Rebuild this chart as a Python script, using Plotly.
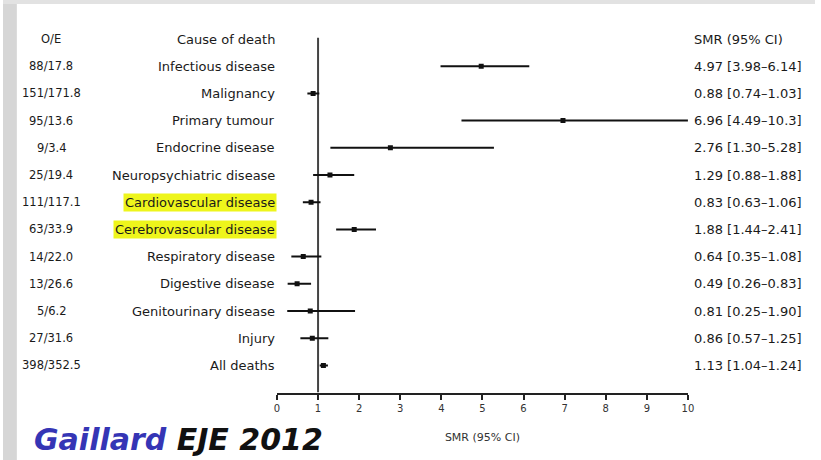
import plotly.graph_objects as go

# ---- data ----
causes = ["Infectious disease", "Malignancy", "Primary tumour", "Endocrine disease",
          "Neuropsychiatric disease", "Cardiovascular disease", "Cerebrovascular disease",
          "Respiratory disease", "Digestive disease", "Genitourinary disease",
          "Injury", "All deaths"]
oe = ["88/17.8", "151/171.8", "95/13.6", "9/3.4", "25/19.4", "111/117.1", "63/33.9",
      "14/22.0", "13/26.6", "5/6.2", "27/31.6", "398/352.5"]
smr = [4.97, 0.88, 6.96, 2.76, 1.29, 0.83, 1.88, 0.64, 0.49, 0.81, 0.86, 1.13]
ci_low = [3.98, 0.74, 4.49, 1.30, 0.88, 0.63, 1.44, 0.35, 0.26, 0.25, 0.57, 1.04]
ci_high = [6.14, 1.03, 10.3, 5.28, 1.88, 1.06, 2.41, 1.08, 0.83, 1.90, 1.25, 1.24]
ci_text = ["4.97 [3.98–6.14]", "0.88 [0.74–1.03]", "6.96 [4.49–10.3]", "2.76 [1.30–5.28]",
           "1.29 [0.88–1.88]", "0.83 [0.63–1.06]", "1.88 [1.44–2.41]", "0.64 [0.35–1.08]",
           "0.49 [0.26–0.83]", "0.81 [0.25–1.90]", "0.86 [0.57–1.25]", "1.13 [1.04–1.24]"]
highlighted = ["Cardiovascular disease", "Cerebrovascular disease"]
x_ticks = list(range(0, 11))

W, H = 821, 460
rows = list(range(1, len(causes) + 1))
FAM = "DejaVu Sans, Verdana, sans-serif"

fig = go.Figure()
fig.add_trace(go.Scatter(
    x=smr, y=rows, mode="markers",
    marker=dict(symbol="square", size=5, color="#111"),
    error_x=dict(type="data", symmetric=False,
                 array=[h - s for h, s in zip(ci_high, smr)],
                 arrayminus=[s - l for s, l in zip(smr, ci_low)],
                 width=0, thickness=2, color="#111"),
    showlegend=False, hoverinfo="skip"))

# reference line at SMR = 1
fig.add_shape(type="line", xref="x", yref="y", x0=1, x1=1, y0=-0.05, y1=13,
              line=dict(color="#444", width=2), layer="below")

font_main = dict(family=FAM, size=13, color="#1a1a1a")
font_oe = dict(family=FAM, size=11.5, color="#1a1a1a")

ann = []
# headers
ann.append(dict(x=49 / W, y=0, xref="paper", yref="y", text="O/E", showarrow=False,
                xanchor="center", yanchor="middle", font=font_oe))
ann.append(dict(x=277 / W, y=0, xref="paper", yref="y", text="Cause of death", showarrow=False,
                xanchor="right", yanchor="middle", font=font_main))
ann.append(dict(x=697 / W, y=0, xref="paper", yref="y", text="SMR (95% CI)", showarrow=False,
                xanchor="left", yanchor="middle", font=font_main))
for r, c, o, t in zip(rows, causes, oe, ci_text):
    ann.append(dict(x=49 / W, y=r, xref="paper", yref="y", text=o, showarrow=False,
                    xanchor="center", yanchor="middle", font=font_oe))
    hl = c in highlighted
    ann.append(dict(x=277 / W, y=r, xref="paper", yref="y", text=c,
                    showarrow=False, xanchor="right", yanchor="middle", font=font_main,
                    bgcolor="#eef51c" if hl else None, borderpad=1))
    ann.append(dict(x=697 / W, y=r, xref="paper", yref="y", text=t, showarrow=False,
                    xanchor="left", yanchor="middle", font=font_main))
# footer caption
ann.append(dict(x=29 / W, y=1 - 439 / H, xref="paper", yref="paper",
                text="<b><i><span style='color:#3535b5'>Gaillard</span> EJE 2012</i></b>",
                showarrow=False, xanchor="left", yanchor="middle",
                font=dict(family=FAM, size=30, color="#111")))

# gray frame strips
shapes = [
    dict(type="rect", xref="paper", yref="paper", x0=0, x1=14 / W, y0=0, y1=1,
         fillcolor="#d6d6d6", line=dict(width=0), layer="below"),
    dict(type="rect", xref="paper", yref="paper", x0=0, x1=1, y0=1 - 4 / H, y1=1,
         fillcolor="#e2e2e2", line=dict(width=0), layer="below"),
]
for s in shapes:
    fig.add_shape(**s)

fig.update_layout(
    width=W, height=H,
    margin=dict(l=0, r=0, t=0, b=0),
    paper_bgcolor="white", plot_bgcolor="white",
    annotations=ann,
    xaxis=dict(domain=[277 / W, 692.5 / W], range=[0, 10], tickvals=x_ticks,
               showgrid=False, zeroline=False, showline=True, linecolor="#222", linewidth=2,
               ticks="outside", ticklen=5, tickwidth=2, tickcolor="#222",
               tickfont=dict(family=FAM, size=10, color="#333"),
               title=dict(text="SMR (95% CI)", standoff=21,
                          font=dict(family=FAM, size=11, color="#333"))),
    yaxis=dict(domain=[1 - 392.6 / H, 1 - 11.8 / H], range=[13, -1], visible=False,
               showgrid=False, zeroline=False),
)

fig.write_html("out.html")
